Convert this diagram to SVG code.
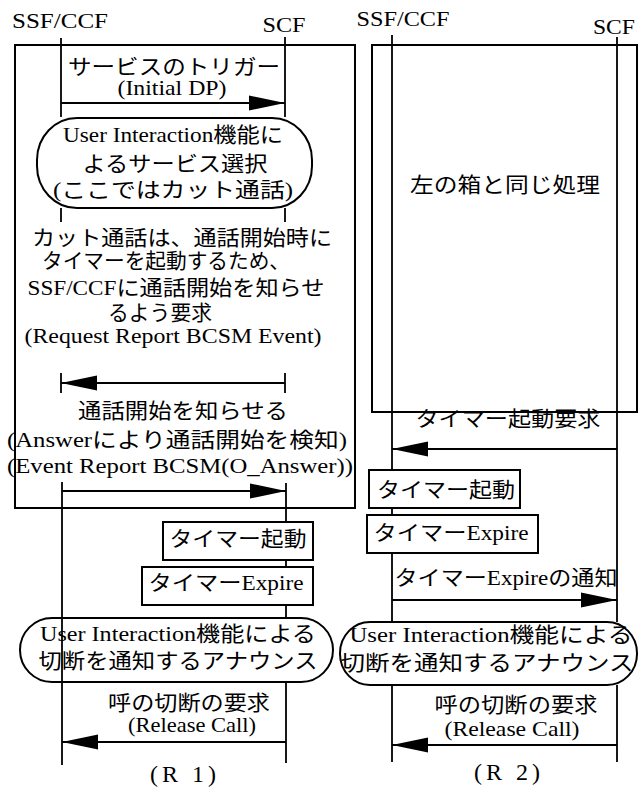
<svg xmlns="http://www.w3.org/2000/svg" width="642" height="787" viewBox="0 0 642 787">
<style>
.t{font-family:"Liberation Serif","Noto Sans CJK JP",serif;font-size:21px;fill:#000;text-anchor:middle}
.h{font-size:22px}
.c{font-size:24px}
.box{fill:none;stroke:#000;stroke-width:2}
.ll{stroke:#000;stroke-width:1.8;fill:none}
.msg{stroke:#000;stroke-width:2;fill:none}
.ra{marker-end:url(#ah)}
</style>
<defs>
<marker id="ah" markerUnits="userSpaceOnUse" markerWidth="37" markerHeight="16" refX="36" refY="8" orient="auto">
<path d="M0,0.5 L36,8 L0,15.5 z" fill="#000"/>
</marker>
</defs>
<rect width="642" height="787" fill="#fff"/>

<!-- Lifelines and messages -->
<g id="connectors">
  <path class="ll" d="M61,38 V117 M61,208 V222 M61,373 V393 M62,482 V765"/>
  <path class="ll" d="M285,37 V117 M285,208 V222 M285,373 V393 M286,483 V522 M286,560 V567 M286,605 V618 M286,682 V763"/>
  <path class="ll" d="M392,35 V470 M392,508 V515 M392,553 V622 M392,685 V762"/>
  <path class="ll" d="M617,37 V622 M617,685 V762"/>
  <line id="m1" class="msg ra" x1="61" y1="103" x2="285" y2="103"/>
  <line id="m2" class="msg ra" x1="285" y1="383" x2="61" y2="383"/>
  <line id="m3" class="msg ra" x1="62" y1="491" x2="286" y2="491"/>
  <line id="m4" class="msg ra" x1="286" y1="742" x2="62" y2="742"/>
  <line id="m5" class="msg ra" x1="617" y1="449" x2="392" y2="449"/>
  <line id="m6" class="msg ra" x1="392" y1="600" x2="617" y2="600"/>
  <line id="m7" class="msg ra" x1="617" y1="745" x2="392" y2="745"/>
</g>

<!-- R1 -->
<g id="r1-ssf-label"><text class="t h" x="60" y="28" textLength="96" lengthAdjust="spacingAndGlyphs">SSF/CCF</text></g>
<g id="r1-scf-label"><text class="t h" x="284" y="32" textLength="43" lengthAdjust="spacingAndGlyphs">SCF</text></g>
<g id="r1-frame"><rect class="box" x="15" y="45" width="340" height="463"/></g>
<g id="r1-m1-label">
  <text class="t" x="174" y="74" textLength="212" lengthAdjust="spacingAndGlyphs">サービスのトリガー</text>
  <text class="t" x="172" y="95" textLength="109" lengthAdjust="spacingAndGlyphs">(Initial DP)</text>
</g>
<g id="r1-ui">
  <rect class="box" x="37" y="118" width="275" height="90" rx="40" ry="42"/>
  <text class="t" x="173" y="142" textLength="220" lengthAdjust="spacingAndGlyphs">User Interaction機能に</text>
  <text class="t" x="175" y="171" textLength="185" lengthAdjust="spacingAndGlyphs">よるサービス選択</text>
  <text class="t" x="173" y="197" textLength="240" lengthAdjust="spacingAndGlyphs">(ここではカット通話)</text>
</g>
<g id="r1-m2-label">
  <text class="t" x="182" y="245" textLength="300" lengthAdjust="spacingAndGlyphs">カット通話は、通話開始時に</text>
  <text class="t" x="166" y="268" textLength="248" lengthAdjust="spacingAndGlyphs">タイマーを起動するため、</text>
  <text class="t" x="176" y="295" textLength="297" lengthAdjust="spacingAndGlyphs">SSF/CCFに通話開始を知らせ</text>
  <text class="t" x="160" y="320" textLength="104" lengthAdjust="spacingAndGlyphs">るよう要求</text>
  <text class="t" x="173" y="343" textLength="297" lengthAdjust="spacingAndGlyphs">(Request Report BCSM Event)</text>
</g>
<g id="r1-m3-label">
  <text class="t" x="183" y="418" textLength="210" lengthAdjust="spacingAndGlyphs">通話開始を知らせる</text>
  <text class="t" x="177" y="447" textLength="340" lengthAdjust="spacingAndGlyphs">(Answerにより通話開始を検知)</text>
  <text class="t" x="180" y="473" textLength="346" lengthAdjust="spacingAndGlyphs">(Event Report BCSM(O_Answer))</text>
</g>
<g id="r1-timer-start">
  <rect class="box" x="163" y="522" width="150" height="38"/>
  <text class="t" x="238" y="546" textLength="137" lengthAdjust="spacingAndGlyphs">タイマー起動</text>
</g>
<g id="r1-timer-expire">
  <rect class="box" x="142" y="567" width="171" height="38"/>
  <text class="t" x="226" y="590" textLength="155" lengthAdjust="spacingAndGlyphs">タイマーExpire</text>
</g>
<g id="r1-announce">
  <rect class="box" x="20" y="618" width="313" height="64" rx="32" ry="32"/>
  <text class="t" x="178" y="641" textLength="276" lengthAdjust="spacingAndGlyphs">User Interaction機能による</text>
  <text class="t" x="178" y="668" textLength="279" lengthAdjust="spacingAndGlyphs">切断を通知するアナウンス</text>
</g>
<g id="r1-m4-label">
  <text class="t" x="189" y="710" textLength="162" lengthAdjust="spacingAndGlyphs">呼の切断の要求</text>
  <text class="t" x="192" y="732" textLength="128" lengthAdjust="spacingAndGlyphs">(Release Call)</text>
</g>
<g id="r1-caption"><text class="t c" x="183" y="782" textLength="66" lengthAdjust="spacing">(R 1)</text></g>

<!-- R2 -->
<g id="r2-ssf-label"><text class="t h" x="403" y="26" textLength="93" lengthAdjust="spacingAndGlyphs">SSF/CCF</text></g>
<g id="r2-scf-label"><text class="t h" x="614" y="34" textLength="42" lengthAdjust="spacingAndGlyphs">SCF</text></g>
<g id="r2-frame">
  <rect class="box" x="372" y="45" width="265" height="367"/>
  <text class="t" x="505" y="192" textLength="190" lengthAdjust="spacingAndGlyphs">左の箱と同じ処理</text>
</g>
<g id="r2-m5-label"><text class="t" x="508" y="426" textLength="185" lengthAdjust="spacingAndGlyphs">タイマー起動要求</text></g>
<g id="r2-timer-start">
  <rect class="box" x="369" y="470" width="151" height="38"/>
  <text class="t" x="446" y="497" textLength="138" lengthAdjust="spacingAndGlyphs">タイマー起動</text>
</g>
<g id="r2-timer-expire">
  <rect class="box" x="367" y="515" width="171" height="38"/>
  <text class="t" x="451" y="540" textLength="155" lengthAdjust="spacingAndGlyphs">タイマーExpire</text>
</g>
<g id="r2-m6-label"><text class="t" x="506" y="585" textLength="223" lengthAdjust="spacingAndGlyphs">タイマーExpireの通知</text></g>
<g id="r2-announce">
  <rect class="box" x="340" y="622" width="297" height="63" rx="30" ry="31"/>
  <text class="t" x="491" y="642" textLength="283" lengthAdjust="spacingAndGlyphs">User Interaction機能による</text>
  <text class="t" x="487" y="670" textLength="293" lengthAdjust="spacingAndGlyphs">切断を通知するアナウンス</text>
</g>
<g id="r2-m7-label">
  <text class="t" x="516" y="712" textLength="163" lengthAdjust="spacingAndGlyphs">呼の切断の要求</text>
  <text class="t" x="512" y="736" textLength="135" lengthAdjust="spacingAndGlyphs">(Release Call)</text>
</g>
<g id="r2-caption"><text class="t c" x="507" y="780" textLength="66" lengthAdjust="spacing">(R 2)</text></g>
</svg>
